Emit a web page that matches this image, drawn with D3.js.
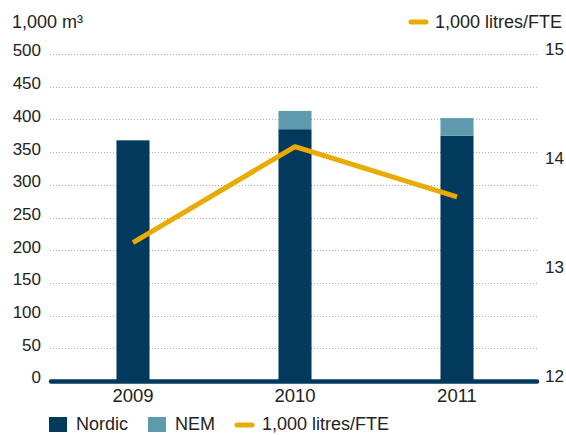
<!DOCTYPE html>
<html>
<head>
<meta charset="utf-8">
<script src="https://cdn.jsdelivr.net/npm/d3@7"></script>
<style>
  body { margin: 0; background: #fff; }
  text { font-family: "Liberation Sans", Arial, sans-serif; fill: #222; }
</style>
</head>
<body>
<div id="chart"></div>
<script>
// Data
const years = ["2009", "2010", "2011"];
const nordic = [368, 385, 375];
const nem = [0, 28, 27];
const litresPerFte = [13.27, 14.15, 13.69];
const leftTicks = [0, 50, 100, 150, 200, 250, 300, 350, 400, 450, 500];
const rightTicks = [12, 13, 14, 15];

const width = 566, height = 435;
const navy = "#023a5e", nemColor = "#5d9aad", yellow = "#e9ab00";

const svg = d3.select("#chart").append("svg")
  .attr("width", width)
  .attr("height", height);

// Scales
const x = d3.scaleBand()
  .domain(years)
  .range([52, 538])
  .paddingInner(0.796)
  .paddingOuter(0.398);

const y = d3.scaleLinear().domain([0, 500]).range([381, 54]);
const y2 = d3.scaleLinear().domain([12, 15]).range([381, 54]);

// Grid lines
svg.append("g")
  .selectAll("line")
  .data(leftTicks.filter(d => d > 0))
  .join("line")
  .attr("x1", 50)
  .attr("x2", 537)
  .attr("y1", d => Math.round(y(d)) + 0.5)
  .attr("y2", d => Math.round(y(d)) + 0.5)
  .attr("stroke", "#b0b0b0")
  .attr("stroke-width", 1)
  .attr("stroke-dasharray", "1,2");

// Left axis labels
svg.append("g")
  .selectAll("text")
  .data(leftTicks)
  .join("text")
  .attr("x", 41)
  .attr("y", d => y(d) - 2)
  .attr("text-anchor", "end")
  .attr("dominant-baseline", "middle")
  .style("font-size", "17px")
  .text(d => d);

// Right axis labels
svg.append("g")
  .selectAll("text")
  .data(rightTicks)
  .join("text")
  .attr("x", 545)
  .attr("y", d => y2(d) - 3)
  .attr("dominant-baseline", "middle")
  .style("font-size", "17px")
  .text(d => d);

// Stacked bars
const bars = svg.append("g");
bars.selectAll(".nordic")
  .data(years)
  .join("rect")
  .attr("class", "nordic")
  .attr("x", d => x(d))
  .attr("width", x.bandwidth())
  .attr("y", (d, i) => y(nordic[i]))
  .attr("height", (d, i) => y(0) - y(nordic[i]))
  .attr("fill", navy);

bars.selectAll(".nem")
  .data(years)
  .join("rect")
  .attr("class", "nem")
  .attr("x", d => x(d))
  .attr("width", x.bandwidth())
  .attr("y", (d, i) => y(nordic[i] + nem[i]))
  .attr("height", (d, i) => y(nordic[i]) - y(nordic[i] + nem[i]))
  .attr("fill", nemColor);

// Baseline
svg.append("line")
  .attr("x1", 51).attr("x2", 537)
  .attr("y1", 381.5).attr("y2", 381.5)
  .attr("stroke", navy)
  .attr("stroke-width", 4.5)
  .attr("stroke-linecap", "round");

// Line series
const line = d3.line()
  .x((d, i) => x(years[i]) + x.bandwidth() / 2)
  .y(d => y2(d));

svg.append("path")
  .datum(litresPerFte)
  .attr("fill", "none")
  .attr("stroke", yellow)
  .attr("stroke-width", 5)
  .attr("stroke-linejoin", "round")
  .attr("d", line);

// X labels
svg.append("g")
  .selectAll("text")
  .data(years)
  .join("text")
  .attr("x", d => x(d) + x.bandwidth() / 2)
  .attr("y", 397.5)
  .attr("text-anchor", "middle")
  .attr("dominant-baseline", "middle")
  .style("font-size", "18.5px")
  .text(d => d);

// Unit label
svg.append("text")
  .attr("x", 12)
  .attr("y", 23)
  .attr("dominant-baseline", "middle")
  .style("font-size", "18px")
  .text("1,000 m³");

// Top right legend
svg.append("line")
  .attr("x1", 411).attr("x2", 426)
  .attr("y1", 22).attr("y2", 22)
  .attr("stroke", yellow)
  .attr("stroke-width", 5)
  .attr("stroke-linecap", "round");
svg.append("text")
  .attr("x", 435)
  .attr("y", 23)
  .attr("dominant-baseline", "middle")
  .style("font-size", "18px")
  .text("1,000 litres/FTE");

// Bottom legend
const legend = svg.append("g");
legend.append("rect")
  .attr("x", 49).attr("y", 417)
  .attr("width", 18).attr("height", 15)
  .attr("fill", navy);
legend.append("text")
  .attr("x", 76).attr("y", 425)
  .attr("dominant-baseline", "middle")
  .style("font-size", "18px")
  .text("Nordic");
legend.append("rect")
  .attr("x", 148).attr("y", 417)
  .attr("width", 18).attr("height", 15)
  .attr("fill", nemColor);
legend.append("text")
  .attr("x", 175).attr("y", 425)
  .attr("dominant-baseline", "middle")
  .style("font-size", "18px")
  .text("NEM");
legend.append("line")
  .attr("x1", 237).attr("x2", 252)
  .attr("y1", 425).attr("y2", 425)
  .attr("stroke", yellow)
  .attr("stroke-width", 5)
  .attr("stroke-linecap", "round");
legend.append("text")
  .attr("x", 262).attr("y", 425)
  .attr("dominant-baseline", "middle")
  .style("font-size", "18px")
  .text("1,000 litres/FTE");
</script>
</body>
</html>
